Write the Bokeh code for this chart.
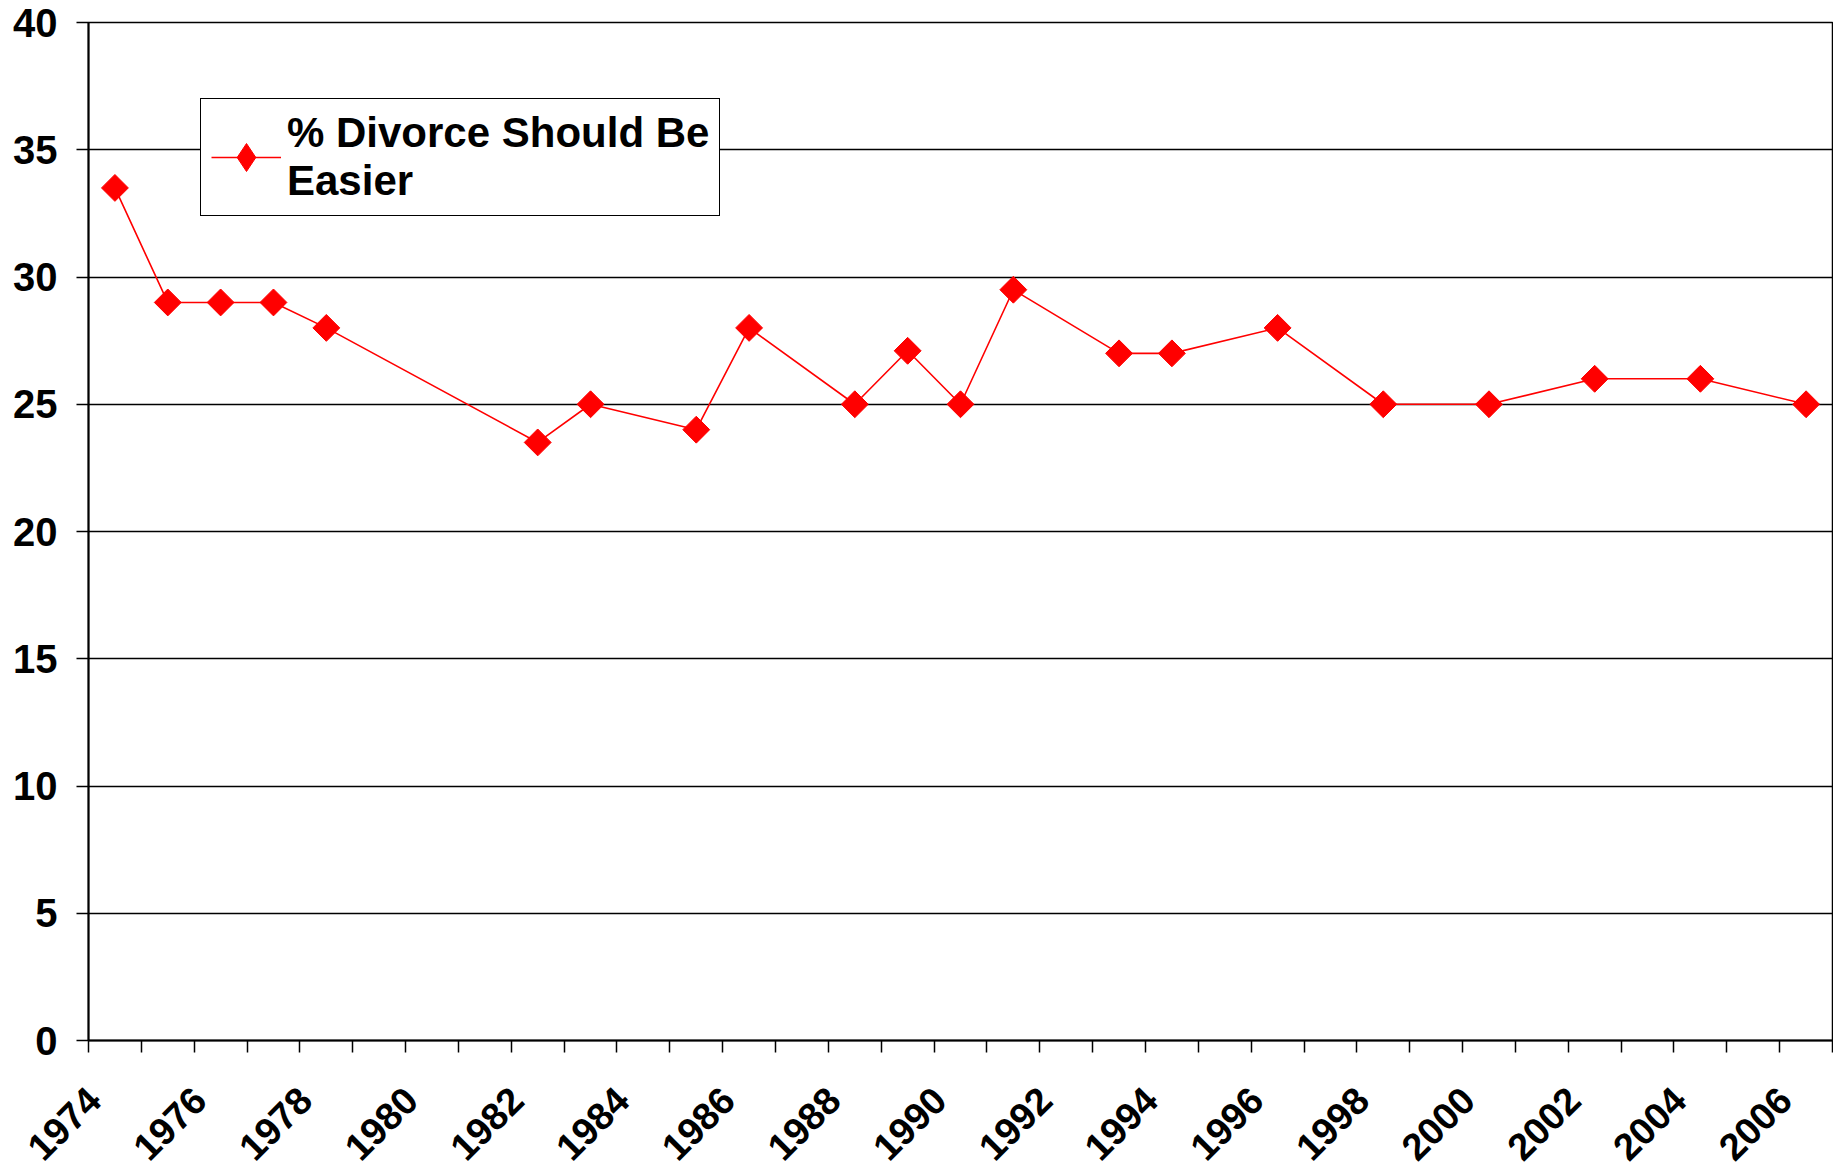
import numpy as np
from bokeh.plotting import figure
from bokeh.models import FixedTicker, Legend, LegendItem, ColumnDataSource
from bokeh.embed import file_html
from bokeh.resources import INLINE

years = [1974, 1975, 1976, 1977, 1978, 1982, 1983, 1985, 1986, 1988, 1989,
         1990, 1991, 1993, 1994, 1996, 1998, 2000, 2002, 2004, 2006]
pct_easier = [33.5, 29, 29, 29, 28, 23.5, 25, 24, 28, 25, 27.1,
              25, 29.5, 27, 27, 28, 25, 25, 26, 26, 25]
series_name = "% Divorce Should Be\nEasier"
label_years = list(range(1974, 2007, 2))
y_ticks = list(range(0, 41, 5))

FONT = "Liberation Sans"

src = ColumnDataSource(dict(x=years, y=pct_easier))

p = figure(width=1833, height=1175, output_backend="svg", toolbar_location=None,
           x_range=(1973.5, 2006.5), y_range=(0, 40),
           min_border_left=88, min_border_right=1, min_border_top=22, min_border_bottom=134)
p.background_fill_color = "white"
p.border_fill_color = "white"
p.outline_line_color = "black"
p.outline_line_width = 1.5

line_r = p.line("x", "y", source=src, line_color="#ff0000", line_width=1.6)
mark_r = p.scatter("x", "y", source=src, marker="square", angle=np.pi / 4, size=19,
                   fill_color="#ff0000", line_color="#ff0000")
# diamond symbol used only for the legend entry
legend_mark = p.scatter("x", "y", source=src, marker="diamond", size=28,
                        fill_color="#ff0000", line_color="#ff0000", visible=False)

# x axis: labels slightly left of the category centre, boundary ticks as minor ticks
label_pos = [y - 0.4 for y in label_years]
p.xaxis.ticker = FixedTicker(ticks=label_pos,
                             minor_ticks=[y - 0.5 for y in range(1974, 2008)])
p.xaxis.major_label_overrides = {pos: str(y) for pos, y in zip(label_pos, label_years)}
p.xaxis.major_tick_out = 0
p.xaxis.major_tick_in = 0
p.xaxis.minor_tick_out = 12
p.xaxis.minor_tick_in = 0
p.xaxis.minor_tick_line_color = "black"
p.xaxis.minor_tick_line_width = 1.5
p.xaxis.major_label_orientation = np.pi / 4
p.xaxis.major_label_standoff = 41
p.xaxis.major_label_text_font = FONT
p.xaxis.major_label_text_font_style = "bold"
p.xaxis.major_label_text_font_size = "38px"
p.xaxis.major_label_text_color = "black"
p.xaxis.axis_line_color = "black"
p.xaxis.axis_line_width = 2

# y axis
p.yaxis.ticker = FixedTicker(ticks=y_ticks, minor_ticks=[])
p.yaxis.major_tick_out = 12
p.yaxis.major_tick_in = 0
p.yaxis.major_tick_line_width = 1.5
p.yaxis.major_tick_line_color = "black"
p.yaxis.major_label_standoff = 19
p.yaxis.major_label_text_font = FONT
p.yaxis.major_label_text_font_style = "bold"
p.yaxis.major_label_text_font_size = "40px"
p.yaxis.major_label_text_color = "black"
p.yaxis.axis_line_color = "black"
p.yaxis.axis_line_width = 2

p.xgrid.grid_line_color = None
p.ygrid.ticker = FixedTicker(ticks=y_ticks)
p.ygrid.grid_line_color = "black"
p.ygrid.grid_line_width = 1.5
p.ygrid.grid_line_alpha = 1.0

legend = Legend(items=[LegendItem(label=series_name, renderers=[line_r, legend_mark])],
                location=(112, 824))
legend.label_text_font = FONT
legend.label_text_font_style = "bold"
legend.label_text_font_size = "42px"
legend.label_text_color = "black"
legend.border_line_color = "black"
legend.border_line_width = 1.5
legend.border_line_alpha = 1.0
legend.background_fill_alpha = 1.0
legend.glyph_width = 70
legend.glyph_height = 70
legend.label_standoff = 6
legend.padding = 10
legend.margin = 0
p.add_layout(legend)

open("out.html", "w").write(file_html(p, INLINE))
